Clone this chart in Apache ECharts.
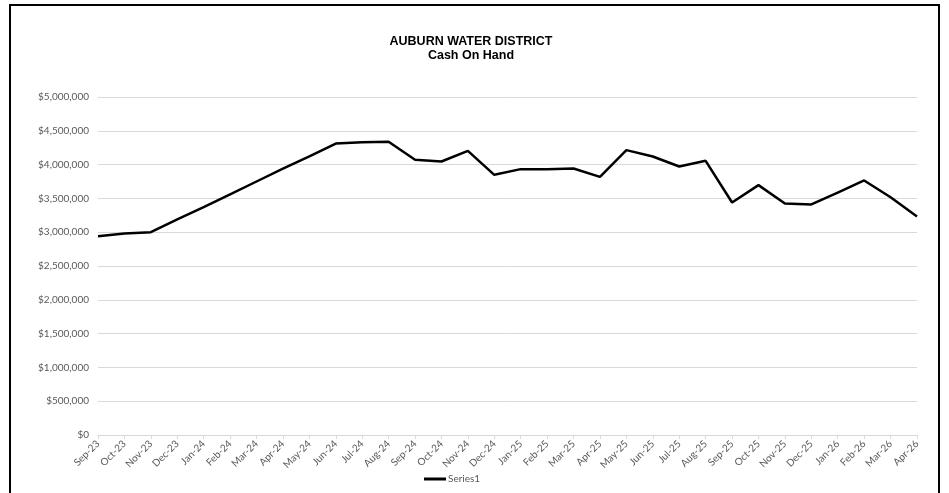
<!DOCTYPE html>
<html>
<head>
<meta charset="utf-8">
<script src="https://cdn.jsdelivr.net/npm/echarts@6/dist/echarts.min.js"></script>
<style>
html,body{margin:0;padding:0;background:#fff;}
#chart{width:949px;height:493px;}
</style>
</head>
<body>
<div id="chart"></div>
<script>
var categories = ["Sep-23","Oct-23","Nov-23","Dec-23","Jan-24","Feb-24","Mar-24","Apr-24","May-24","Jun-24","Jul-24","Aug-24","Sep-24","Oct-24","Nov-24","Dec-24","Jan-25","Feb-25","Mar-25","Apr-25","May-25","Jun-25","Jul-25","Aug-25","Sep-25","Oct-25","Nov-25","Dec-25","Jan-26","Feb-26","Mar-26","Apr-26"];
var cashOnHand = [2940000,2980000,3000000,3190000,3370000,3560000,3750000,3940000,4120000,4312000,4330000,4337000,4071000,4046000,4204000,3849000,3933000,3933000,3943000,3819000,4214000,4120000,3972000,4056000,3439000,3696000,3424000,3410000,3587000,3765000,3518000,3232000];
var seriesName = "Series1";
var titleLine1 = "AUBURN WATER DISTRICT";
var titleLine2 = "Cash On Hand";

var chart = echarts.init(document.getElementById('chart'), null, {renderer:'canvas'});
var fmt = function(v){ return '$' + v.toLocaleString('en-US'); };
chart.setOption({
  animation:false,
  backgroundColor:'#ffffff',
  textStyle:{fontFamily:'Lato'},
  graphic:[{
    type:'rect', shape:{x:10,y:5,width:929,height:500},
    style:{fill:'none',stroke:'#000',lineWidth:2}, silent:true
  }],
  title:{
    text:titleLine1+'\n'+titleLine2,
    left:466, textAlign:'center', top:29,
    textStyle:{fontFamily:'Liberation Sans',fontSize:12.5,fontWeight:'bold',color:'#000',lineHeight:14.5}
  },
  legend:{
    data:[{name:seriesName, icon:'rect'}],
    left:419, top:469, itemWidth:22, itemHeight:3, itemGap:4,
    textStyle:{fontFamily:'Lato',fontSize:10,color:'#595959',padding:[0,0,0,-3]}
  },
  grid:{left:98,right:32,top:97,bottom:58,containLabel:false},
  xAxis:{
    type:'category', data:categories, boundaryGap:false,
    axisLine:{lineStyle:{color:'#d9d9d9',width:1}},
    axisTick:{show:true,length:4,lineStyle:{color:'#d9d9d9'}},
    axisLabel:{rotate:45,interval:0,fontFamily:'Lato',fontSize:10,color:'#595959',margin:7}
  },
  yAxis:{
    type:'value', min:0, max:5000000, interval:500000,
    axisLine:{show:false}, axisTick:{show:false},
    splitLine:{lineStyle:{color:'#d9d9d9',width:1}},
    axisLabel:{formatter:fmt,fontFamily:'Lato',fontSize:10,color:'#595959',margin:9}
  },
  series:[{
    name:seriesName, type:'line', data:cashOnHand,
    showSymbol:false, symbol:'none',
    lineStyle:{color:'#000',width:2.5},
    itemStyle:{color:'#000'}
  }]
});
</script>
</body>
</html>
